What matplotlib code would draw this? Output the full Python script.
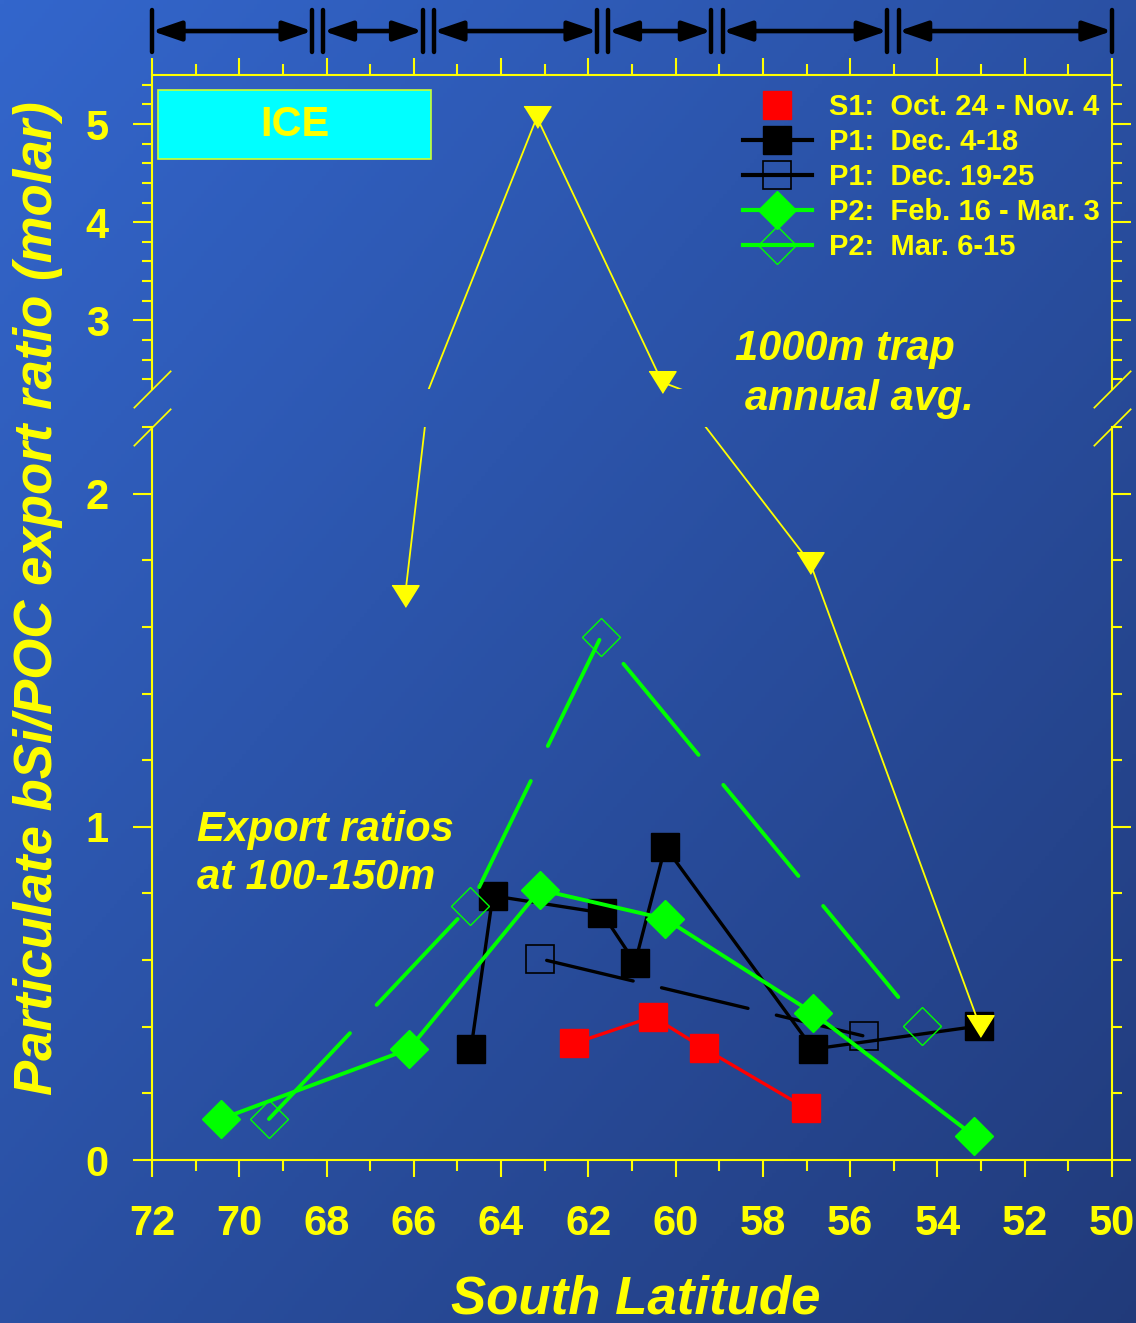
import numpy as np
import matplotlib
matplotlib.use("Agg")
import matplotlib.pyplot as plt
import matplotlib.transforms as mtransforms
from matplotlib.lines import Line2D
from matplotlib.patches import Rectangle
from matplotlib.ticker import MultipleLocator

plt.rcParams['font.family'] = ['Liberation Sans', 'DejaVu Sans']
plt.rcParams['font.weight'] = 'bold'
plt.rcParams['lines.scale_dashes'] = False

# data (latitude in degrees S, bSi/POC molar ratio)
s1_lat = [62.33, 60.52, 59.35, 57.01]
s1_ratio = [0.35, 0.43, 0.335, 0.155]

p1a_lat = [64.69, 64.19, 61.69, 60.93, 60.24, 56.85, 53.05]
p1a_ratio = [0.333, 0.793, 0.742, 0.592, 0.94, 0.333, 0.402]

p1b_lat = [63.11, 55.68]
p1b_ratio = [0.604, 0.372]

p2a_lat = [70.42, 66.11, 63.11, 60.24, 56.85, 53.16]
p2a_ratio = [0.123, 0.333, 0.811, 0.724, 0.441, 0.072]

p2b_lat = [69.32, 64.71, 61.71, 54.35]
p2b_ratio = [0.123, 0.763, 1.571, 0.402]

trap_lat = [66.2, 63.18, 60.31, 56.92, 53.03]
trap_ratio = [1.694, 5.07, 2.37, 1.793, 0.402]

zone_edges = [72.0, 68.2, 65.67, 61.67, 59.05, 55.02, 50.0]
ice_lat = (71.86, 65.61)

labels = ['S1:  Oct. 24 - Nov. 4', 'P1:  Dec. 4-18', 'P1:  Dec. 19-25',
          'P2:  Feb. 16 - Mar. 3', 'P2:  Mar. 6-15']

YEL = '#ffff00'
GRN = '#00ff00'
RED = '#ff0000'

fig = plt.figure(figsize=(11.36, 13.23), dpi=100)

# gradient background
bg = fig.add_axes([0, 0, 1, 1])
bg.axis('off')
yy, xx = np.mgrid[0:1:300j, 0:1:300j]
t = ((xx + yy) / 2)[..., None]
c0 = np.array([0.20, 0.40, 0.80])
c1 = np.array([0.13, 0.23, 0.48])
bg.imshow(c0 * (1 - t) + c1 * t, aspect='auto', extent=[0, 1, 0, 1])

L, W = 152 / 1136, 960 / 1136
ax_top = fig.add_axes([L, 1 - 389 / 1323, W, 314 / 1323])
ax_bot = fig.add_axes([L, 1 - 1160 / 1323, W, 733 / 1323])

for ax in (ax_top, ax_bot):
    ax.set_facecolor('none')
    for s in ax.spines.values():
        s.set_color(YEL)
        s.set_linewidth(1.5)
    ax.yaxis.set_ticks_position('both')
    ax.tick_params(which='both', direction='out', color=YEL, labelcolor=YEL,
                   width=1.5, labelsize=30)
    ax.tick_params(axis='x', which='major', length=12, pad=20)
    ax.tick_params(axis='x', which='minor', length=8)
    ax.tick_params(axis='y', which='major', length=14, pad=17)
    ax.tick_params(axis='y', which='minor', length=7)
    ax.tick_params(axis='y', labelright=False)
    ax.xaxis.set_minor_locator(MultipleLocator(1))
    ax.yaxis.set_minor_locator(MultipleLocator(0.2))

ax_top.spines['bottom'].set_visible(False)
ax_bot.spines['top'].set_visible(False)
ax_top.xaxis.tick_top()
ax_top.tick_params(axis='x', which='both', labeltop=False, labelbottom=False)
ax_bot.xaxis.tick_bottom()

# shipboard data
ax_bot.plot(s1_lat, s1_ratio, color=RED, lw=2.4, marker='s', ms=20, mfc=RED, mec=RED, mew=1)
ax_bot.plot(p1a_lat, p1a_ratio, color='k', lw=2.4, marker='s', ms=20, mfc='k', mec='k', mew=1)
ax_bot.plot(p1b_lat, p1b_ratio, color='k', lw=2.4, linestyle=(80, (64, 21)), dash_capstyle='round')
ax_bot.plot(p1b_lat, p1b_ratio, ls='none', marker='s', ms=20, mfc='none', mec='k', mew=1.2)
ax_bot.plot(p2a_lat, p2a_ratio, color=GRN, lw=2.8, marker='D', ms=19, mfc=GRN, mec=GRN, mew=1)
ax_bot.plot(p2b_lat, p2b_ratio, color=GRN, lw=2.8, dashes=(85, 28), dash_capstyle='round')
ax_bot.plot(p2b_lat, p2b_ratio, ls='none', marker='D', ms=19, mfc='none', mec=GRN, mew=1)

# 1000m trap line drawn in both halves of the broken axis
tri = [(-1, 0.8), (1, 0.8), (0, -0.8)]
tl = np.array(trap_lat)
tr = np.array(trap_ratio)
for ax, lo, hi in ((ax_top, 2.3, 5.5), (ax_bot, 0, 2.2)):
    ax.plot(tl, tr, color=YEL, lw=1.3)
    m = (tr >= lo) & (tr <= hi)
    ax.plot(tl[m], tr[m], ls='none', marker=tri, ms=19.5, color=YEL, clip_on=False)

# break marks
for ax, yv in ((ax_top, 0), (ax_bot, 1)):
    ax.plot([0, 1], [yv, yv], transform=ax.transAxes, ls='none',
            marker=[(-1, -1), (1, 1)], ms=27, mec=YEL, mew=1.2, clip_on=False)

ax_top.set_yticks([3, 4, 5])
ax_bot.set_yticks([0, 1, 2])
ax_bot.set_xticks(np.arange(72, 49, -2))
ax_top.set_xticks(np.arange(72, 49, -2))
for ax in (ax_top, ax_bot):
    ax.set_xlim(72, 50)
ax_top.set_ylim(2.3, 5.5)
ax_bot.set_ylim(0, 2.2)

# zone arrows above the plot
trans = mtransforms.blended_transform_factory(ax_top.transData, ax_top.transAxes)
gap = 0.13
n = len(zone_edges)
for i, e in enumerate(zone_edges):
    xs = [e] if i in (0, n - 1) else [e + gap, e - gap]
    for b in xs:
        ax_top.plot([b, b], [1.073, 1.207], transform=trans, color='k', lw=3.2,
                    solid_capstyle='round', clip_on=False)
for i in range(n - 1):
    x0 = zone_edges[i] - (gap if i > 0 else 0)
    x1 = zone_edges[i + 1] + (gap if i + 1 < n - 1 else 0)
    ax_top.annotate('', xy=(x1, 1.14), xytext=(x0, 1.14), xycoords=trans, textcoords=trans,
                    arrowprops=dict(arrowstyle='<|-|>,head_length=1.75,head_width=0.6',
                                    lw=3.3, color='k', shrinkA=0, shrinkB=0),
                    annotation_clip=False)

# ICE box
ax_top.add_patch(Rectangle((ice_lat[0], 4.643), ice_lat[1] - ice_lat[0], 0.704,
                           fc='#00ffff', ec='#ccff33', lw=1.2, zorder=3))
ax_top.text((ice_lat[0] + ice_lat[1]) / 2, 4.995, 'ICE', color=YEL, fontsize=30,
            ha='center', va='center', zorder=4)

# legend
handles = [
    Line2D([], [], ls='none', marker='s', ms=20, mfc=RED, mec=RED),
    Line2D([], [], color='k', lw=3, marker='s', ms=20, mfc='k', mec='k'),
    Line2D([], [], color='k', lw=3, marker='s', ms=20, mfc='none', mec='k', mew=1.2),
    Line2D([], [], color=GRN, lw=3, marker='D', ms=19, mfc=GRN, mec=GRN),
    Line2D([], [], color=GRN, lw=3, marker='D', ms=19, mfc='none', mec=GRN, mew=1),
]
ax_top.legend(handles, labels, loc='upper left', bbox_to_anchor=(0.6156, 0.943),
              frameon=False, fontsize=21, labelcolor=YEL, handlelength=2.35,
              handletextpad=0.6, labelspacing=0.24, borderpad=0, borderaxespad=0,
              handleheight=0.7)

# annotations
ax_top.text(58.64, 2.592, '1000m trap', color=YEL, fontsize=30, style='italic')
ax_top.text(58.41, 2.082, 'annual avg.', color=YEL, fontsize=30, style='italic')
ax_bot.text(70.97, 0.958, 'Export ratios', color=YEL, fontsize=30, style='italic')
ax_bot.text(70.97, 0.814, 'at 100-150m', color=YEL, fontsize=30, style='italic')

fig.text(38 / 1136, 1 - 598 / 1323, 'Particulate bSi/POC export ratio (molar)',
         rotation=90, color=YEL, fontsize=38, style='italic', ha='center', va='center')
fig.text(636 / 1136, 1 - 1313 / 1323, 'South Latitude', color=YEL, fontsize=38,
         style='italic', ha='center', va='baseline')

fig.savefig('out.png', dpi=100)
